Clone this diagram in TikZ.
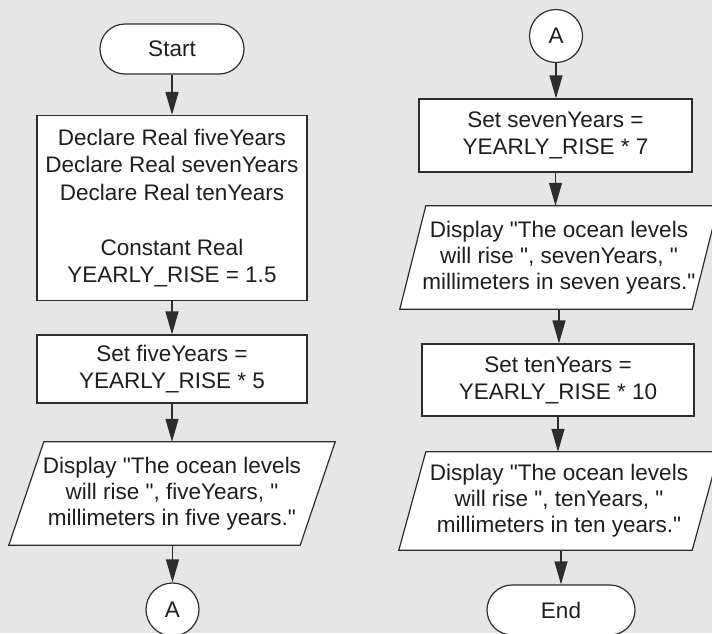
\documentclass[tikz,border=0pt]{standalone}
\usepackage{fontspec}
\setmainfont{Liberation Sans}[Ligatures=TeXOff]
\usetikzlibrary{arrows.meta,shapes.misc}
\pgfdeclarelayer{back}
\pgfsetlayers{back,main}
\definecolor{bgc}{RGB}{230,230,230}
\definecolor{linec}{RGB}{45,45,45}
\definecolor{txtc}{RGB}{30,30,30}
\tikzset{
  base/.style={inner sep=0pt, align=center, text=txtc, font=\fontsize{22.5}{26}\selectfont},
  procbox/.style={base, draw=linec, fill=white, line width=1.2pt, rectangle},
  termbox/.style={base, draw=linec, fill=white, line width=1.2pt, rounded rectangle, minimum width=144pt, minimum height=50pt},
  connbox/.style={base, draw=linec, fill=white, line width=1.2pt, circle, minimum size=53pt},
  iotext/.style={base, rectangle},
  iofill/.style={draw=linec, fill=white, line width=1.2pt, line join=miter},
  arr/.style={draw=linec, line width=1.2pt, -{Triangle[length=23pt,width=13pt]}},
}
\begin{document}
\begin{tikzpicture}[x=1pt,y=-1pt]
\begin{pgfonlayer}{back}
\fill[bgc] (0,0) rectangle (712,633);
\end{pgfonlayer}
\path[use as bounding box] (0,0) rectangle (712,633);

% left column
\node[termbox] (start) at (172,49) {Start};
\node[procbox, minimum width=270pt, minimum height=185pt,
      font=\fontsize{22.5}{27.5}\selectfont] (decl) at (172,208)
  {Declare Real fiveYears\\Declare Real sevenYears\\Declare Real tenYears\\[27.5pt]Constant Real\\YEARLY\_RISE = 1.5};
\node[procbox, minimum width=270pt, minimum height=68pt, font=\fontsize{22.5}{27}\selectfont] (set5) at (172,369)
  {Set fiveYears =\\YEARLY\_RISE * 5};
\node[iotext, minimum width=291pt, minimum height=103pt] (disp5) at (172,493.5)
  {Display "The ocean levels\\will rise ", fiveYears, "\\millimeters in five years."};
\node[connbox] (al) at (172.5,609.5) {A};

% right column
\node[connbox] (ar) at (556,36) {A};
\node[procbox, minimum width=273pt, minimum height=73pt, font=\fontsize{22.5}{27}\selectfont] (set7) at (555.5,135.5)
  {Set sevenYears =\\YEARLY\_RISE * 7};
\node[iotext, minimum width=292pt, minimum height=103pt] (disp7) at (559,257.5)
  {Display "The ocean levels\\will rise ", sevenYears, "\\millimeters in seven years."};
\node[procbox, minimum width=272pt, minimum height=72pt, font=\fontsize{22.5}{27}\selectfont] (set10) at (558,380)
  {Set tenYears =\\YEARLY\_RISE * 10};
\node[iotext, minimum width=293pt, minimum height=98pt] (disp10) at (559,501)
  {Display "The ocean levels\\will rise ", tenYears, "\\millimeters in ten years."};
\node[termbox, minimum width=148pt] (end) at (561,610) {End};

% parallelogram outlines (behind their text)
\begin{pgfonlayer}{back}
\draw[iofill] ([xshift=17.5pt]disp5.north west) -- ([xshift=17.5pt]disp5.north east)
  -- ([xshift=-17.5pt]disp5.south east) -- ([xshift=-17.5pt]disp5.south west) -- cycle;
\draw[iofill] ([xshift=13pt]disp7.north west) -- ([xshift=13pt]disp7.north east)
  -- ([xshift=-13pt]disp7.south east) -- ([xshift=-13pt]disp7.south west) -- cycle;
\draw[iofill] ([xshift=13.5pt]disp10.north west) -- ([xshift=13.5pt]disp10.north east)
  -- ([xshift=-13.5pt]disp10.south east) -- ([xshift=-13.5pt]disp10.south west) -- cycle;
\end{pgfonlayer}

% connectors
\draw[arr] (start.south) -- (start.south |- decl.north);
\draw[arr] (decl.south) -- (decl.south |- set5.north);
\draw[arr] (set5.south) -- (set5.south |- disp5.north);
\draw[arr] (al.north |- disp5.south) -- (al.north);
\draw[arr] (ar.south) -- (ar.south |- set7.north);
\draw[arr] (set7.south) -- (set7.south |- disp7.north);
\draw[arr] (disp7.south) -- (disp7.south |- set10.north);
\draw[arr] (set10.south) -- (set10.south |- disp10.north);
\draw[arr] (end.north |- disp10.south) -- (end.north);
\end{tikzpicture}
\end{document}
